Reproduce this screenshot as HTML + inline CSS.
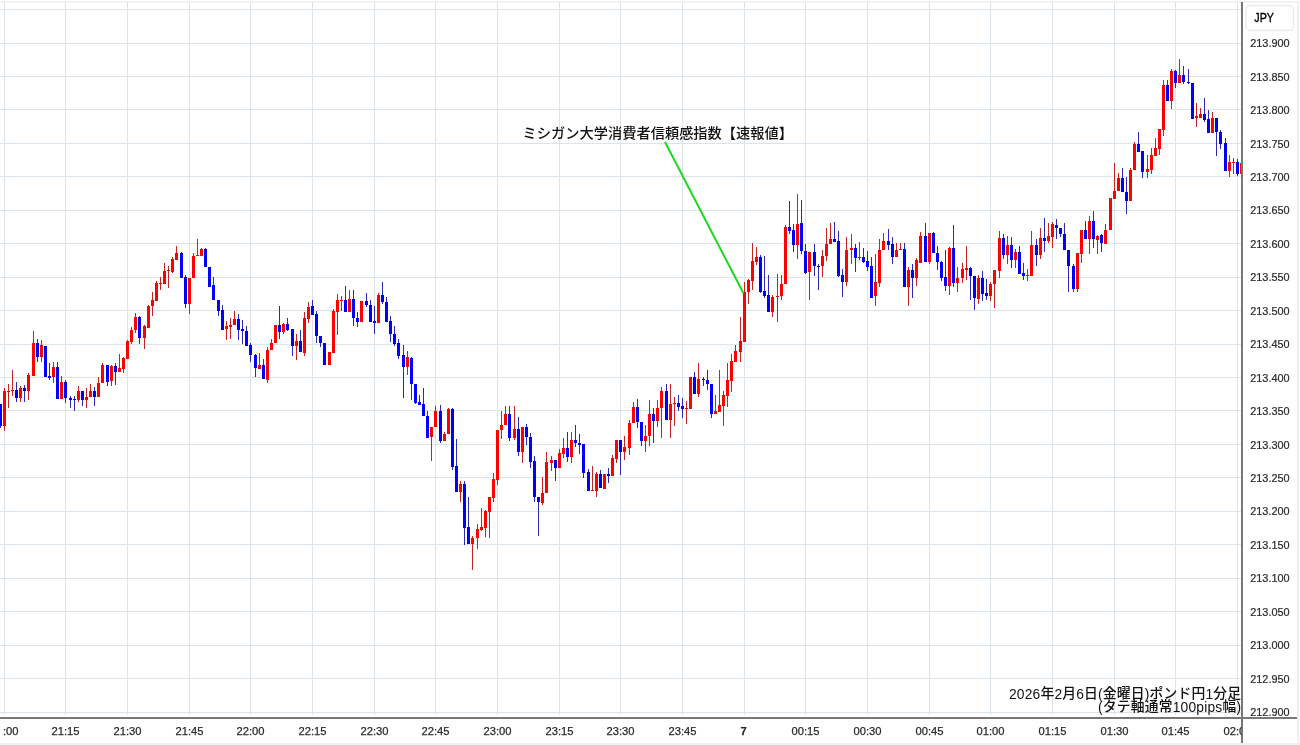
<!DOCTYPE html>
<html><head><meta charset="utf-8"><style>
html,body{margin:0;padding:0;background:#fff;}
body{width:1300px;height:745px;overflow:hidden;position:relative;}
svg{position:absolute;left:0;top:0;display:block;}
.pl text{font-family:"Liberation Sans",sans-serif;font-size:10.9px;fill:#2a2a2a;stroke:#2a2a2a;stroke-width:0.2px;}
.tl text{font-family:"Liberation Sans",sans-serif;font-size:11.2px;fill:#2a2a2a;stroke:#2a2a2a;stroke-width:0.25px;}
.jp{font-family:"Liberation Sans","Noto Sans CJK JP",sans-serif;}
</style></head><body>
<svg width="1300" height="745" viewBox="0 0 1300 745" shape-rendering="crispEdges">
<defs><clipPath id="cc"><rect x="0" y="2" width="1241" height="715"/></clipPath>
<clipPath id="tc"><rect x="3" y="719" width="1238.6" height="24"/></clipPath></defs>
<rect x="0" y="0" width="1300" height="745" fill="#fff"/>
<rect x="0" y="1" width="1298" height="2" fill="#f3f3f3"/>
<rect x="1297" y="1" width="2" height="744" fill="#f0f0f0"/>
<rect x="0" y="743" width="1300" height="2" fill="#f0f0f0"/>
<g clip-path="url(#cc)">
<rect x="0" y="9" width="1241" height="1" fill="#dbe4ea"/><rect x="0" y="43" width="1241" height="1" fill="#dbe4ea"/><rect x="0" y="76" width="1241" height="1" fill="#dbe4ea"/><rect x="0" y="109" width="1241" height="1" fill="#dbe4ea"/><rect x="0" y="143" width="1241" height="1" fill="#dbe4ea"/><rect x="0" y="176" width="1241" height="1" fill="#dbe4ea"/><rect x="0" y="210" width="1241" height="1" fill="#dbe4ea"/><rect x="0" y="243" width="1241" height="1" fill="#dbe4ea"/><rect x="0" y="277" width="1241" height="1" fill="#dbe4ea"/><rect x="0" y="310" width="1241" height="1" fill="#dbe4ea"/><rect x="0" y="344" width="1241" height="1" fill="#dbe4ea"/><rect x="0" y="377" width="1241" height="1" fill="#dbe4ea"/><rect x="0" y="410" width="1241" height="1" fill="#dbe4ea"/><rect x="0" y="444" width="1241" height="1" fill="#dbe4ea"/><rect x="0" y="477" width="1241" height="1" fill="#dbe4ea"/><rect x="0" y="511" width="1241" height="1" fill="#dbe4ea"/><rect x="0" y="544" width="1241" height="1" fill="#dbe4ea"/><rect x="0" y="578" width="1241" height="1" fill="#dbe4ea"/><rect x="0" y="611" width="1241" height="1" fill="#dbe4ea"/><rect x="0" y="645" width="1241" height="1" fill="#dbe4ea"/><rect x="0" y="678" width="1241" height="1" fill="#dbe4ea"/><rect x="0" y="712" width="1241" height="1" fill="#dbe4ea"/>
<rect x="4" y="2" width="1" height="713" fill="#dbe4ea"/><rect x="65" y="2" width="1" height="713" fill="#dbe4ea"/><rect x="127" y="2" width="1" height="713" fill="#dbe4ea"/><rect x="189" y="2" width="1" height="713" fill="#dbe4ea"/><rect x="250" y="2" width="1" height="713" fill="#dbe4ea"/><rect x="312" y="2" width="1" height="713" fill="#dbe4ea"/><rect x="374" y="2" width="1" height="713" fill="#dbe4ea"/><rect x="435" y="2" width="1" height="713" fill="#dbe4ea"/><rect x="497" y="2" width="1" height="713" fill="#dbe4ea"/><rect x="559" y="2" width="1" height="713" fill="#dbe4ea"/><rect x="620" y="2" width="1" height="713" fill="#dbe4ea"/><rect x="682" y="2" width="1" height="713" fill="#dbe4ea"/><rect x="744" y="2" width="1" height="713" fill="#dbe4ea"/><rect x="805" y="2" width="1" height="713" fill="#dbe4ea"/><rect x="867" y="2" width="1" height="713" fill="#dbe4ea"/><rect x="929" y="2" width="1" height="713" fill="#dbe4ea"/><rect x="990" y="2" width="1" height="713" fill="#dbe4ea"/><rect x="1052" y="2" width="1" height="713" fill="#dbe4ea"/><rect x="1114" y="2" width="1" height="713" fill="#dbe4ea"/><rect x="1175" y="2" width="1" height="713" fill="#dbe4ea"/><rect x="1237" y="2" width="1" height="713" fill="#dbe4ea"/>
<rect x="0" y="404" width="1" height="24" fill="#2a2ab4"/><rect x="-1" y="404" width="3" height="22" fill="#00f"/><rect x="4" y="388" width="1" height="43" fill="#c42424"/><rect x="3" y="391" width="3" height="35" fill="#f00"/><rect x="8" y="384" width="1" height="24" fill="#c42424"/><rect x="7" y="391" width="3" height="1" fill="#f00"/><rect x="12" y="370" width="1" height="26" fill="#c42424"/><rect x="11" y="390" width="3" height="1" fill="#f00"/><rect x="16" y="382" width="1" height="20" fill="#2a2ab4"/><rect x="15" y="390" width="3" height="8" fill="#00f"/><rect x="20" y="386" width="1" height="16" fill="#c42424"/><rect x="19" y="388" width="3" height="10" fill="#f00"/><rect x="24" y="385" width="1" height="17" fill="#2a2ab4"/><rect x="23" y="388" width="3" height="3" fill="#00f"/><rect x="28" y="373" width="1" height="27" fill="#c42424"/><rect x="27" y="375" width="3" height="16" fill="#f00"/><rect x="33" y="331" width="1" height="45" fill="#c42424"/><rect x="32" y="343" width="3" height="33" fill="#f00"/><rect x="37" y="339" width="1" height="23" fill="#2a2ab4"/><rect x="36" y="343" width="3" height="14" fill="#00f"/><rect x="41" y="340" width="1" height="22" fill="#c42424"/><rect x="40" y="345" width="3" height="12" fill="#f00"/><rect x="44" y="346" width="3" height="31" fill="#00f"/><rect x="49" y="363" width="1" height="17" fill="#2a2ab4"/><rect x="48" y="376" width="3" height="2" fill="#00f"/><rect x="53" y="362" width="1" height="21" fill="#c42424"/><rect x="52" y="367" width="3" height="10" fill="#f00"/><rect x="57" y="362" width="1" height="37" fill="#2a2ab4"/><rect x="56" y="367" width="3" height="32" fill="#00f"/><rect x="61" y="376" width="1" height="23" fill="#c42424"/><rect x="60" y="382" width="3" height="17" fill="#f00"/><rect x="65" y="380" width="1" height="23" fill="#2a2ab4"/><rect x="64" y="382" width="3" height="16" fill="#00f"/><rect x="70" y="396" width="1" height="12" fill="#2a2ab4"/><rect x="69" y="398" width="3" height="2" fill="#00f"/><rect x="74" y="396" width="1" height="15" fill="#2a2ab4"/><rect x="73" y="399" width="3" height="1" fill="#00f"/><rect x="78" y="386" width="1" height="16" fill="#c42424"/><rect x="77" y="391" width="3" height="9" fill="#f00"/><rect x="82" y="391" width="1" height="15" fill="#2a2ab4"/><rect x="81" y="391" width="3" height="9" fill="#00f"/><rect x="86" y="388" width="1" height="20" fill="#c42424"/><rect x="85" y="397" width="3" height="3" fill="#f00"/><rect x="90" y="384" width="1" height="13" fill="#c42424"/><rect x="89" y="391" width="3" height="6" fill="#f00"/><rect x="94" y="387" width="1" height="19" fill="#2a2ab4"/><rect x="93" y="391" width="3" height="6" fill="#00f"/><rect x="98" y="377" width="1" height="20" fill="#c42424"/><rect x="97" y="383" width="3" height="14" fill="#f00"/><rect x="102" y="363" width="1" height="20" fill="#c42424"/><rect x="101" y="365" width="3" height="18" fill="#f00"/><rect x="107" y="365" width="1" height="21" fill="#2a2ab4"/><rect x="106" y="365" width="3" height="17" fill="#00f"/><rect x="111" y="365" width="1" height="21" fill="#c42424"/><rect x="110" y="366" width="3" height="15" fill="#f00"/><rect x="115" y="363" width="1" height="22" fill="#2a2ab4"/><rect x="114" y="366" width="3" height="6" fill="#00f"/><rect x="119" y="354" width="1" height="18" fill="#c42424"/><rect x="118" y="368" width="3" height="4" fill="#f00"/><rect x="123" y="357" width="1" height="16" fill="#c42424"/><rect x="122" y="358" width="3" height="11" fill="#f00"/><rect x="127" y="340" width="1" height="19" fill="#c42424"/><rect x="126" y="341" width="3" height="18" fill="#f00"/><rect x="131" y="327" width="1" height="17" fill="#c42424"/><rect x="130" y="330" width="3" height="12" fill="#f00"/><rect x="135" y="313" width="1" height="20" fill="#c42424"/><rect x="134" y="317" width="3" height="13" fill="#f00"/><rect x="139" y="316" width="1" height="28" fill="#2a2ab4"/><rect x="138" y="317" width="3" height="21" fill="#00f"/><rect x="144" y="325" width="1" height="24" fill="#c42424"/><rect x="143" y="326" width="3" height="12" fill="#f00"/><rect x="148" y="305" width="1" height="23" fill="#c42424"/><rect x="147" y="306" width="3" height="22" fill="#f00"/><rect x="152" y="292" width="1" height="24" fill="#c42424"/><rect x="151" y="300" width="3" height="6" fill="#f00"/><rect x="156" y="281" width="1" height="20" fill="#c42424"/><rect x="155" y="283" width="3" height="18" fill="#f00"/><rect x="160" y="277" width="1" height="13" fill="#c42424"/><rect x="159" y="283" width="3" height="1" fill="#f00"/><rect x="164" y="263" width="1" height="21" fill="#c42424"/><rect x="163" y="271" width="3" height="13" fill="#f00"/><rect x="168" y="266" width="1" height="22" fill="#c42424"/><rect x="167" y="270" width="3" height="1" fill="#f00"/><rect x="172" y="257" width="1" height="16" fill="#c42424"/><rect x="171" y="259" width="3" height="13" fill="#f00"/><rect x="176" y="246" width="1" height="14" fill="#c42424"/><rect x="175" y="253" width="3" height="7" fill="#f00"/><rect x="181" y="252" width="1" height="26" fill="#2a2ab4"/><rect x="180" y="253" width="3" height="25" fill="#00f"/><rect x="185" y="275" width="1" height="33" fill="#2a2ab4"/><rect x="184" y="277" width="3" height="27" fill="#00f"/><rect x="189" y="278" width="1" height="36" fill="#c42424"/><rect x="188" y="278" width="3" height="26" fill="#f00"/><rect x="193" y="253" width="1" height="25" fill="#c42424"/><rect x="192" y="256" width="3" height="22" fill="#f00"/><rect x="197" y="239" width="1" height="17" fill="#c42424"/><rect x="196" y="255" width="3" height="1" fill="#f00"/><rect x="201" y="248" width="1" height="8" fill="#c42424"/><rect x="200" y="249" width="3" height="7" fill="#f00"/><rect x="205" y="248" width="1" height="19" fill="#2a2ab4"/><rect x="204" y="249" width="3" height="18" fill="#00f"/><rect x="208" y="267" width="3" height="20" fill="#00f"/><rect x="213" y="277" width="1" height="23" fill="#2a2ab4"/><rect x="212" y="285" width="3" height="15" fill="#00f"/><rect x="218" y="300" width="1" height="16" fill="#2a2ab4"/><rect x="217" y="300" width="3" height="11" fill="#00f"/><rect x="222" y="305" width="1" height="25" fill="#2a2ab4"/><rect x="221" y="310" width="3" height="20" fill="#00f"/><rect x="226" y="321" width="1" height="19" fill="#c42424"/><rect x="225" y="326" width="3" height="3" fill="#f00"/><rect x="230" y="318" width="1" height="21" fill="#c42424"/><rect x="229" y="325" width="3" height="2" fill="#f00"/><rect x="234" y="311" width="1" height="14" fill="#c42424"/><rect x="233" y="319" width="3" height="6" fill="#f00"/><rect x="238" y="314" width="1" height="26" fill="#2a2ab4"/><rect x="237" y="319" width="3" height="11" fill="#00f"/><rect x="242" y="320" width="1" height="24" fill="#2a2ab4"/><rect x="241" y="329" width="3" height="2" fill="#00f"/><rect x="246" y="326" width="1" height="20" fill="#2a2ab4"/><rect x="245" y="331" width="3" height="15" fill="#00f"/><rect x="250" y="343" width="1" height="19" fill="#2a2ab4"/><rect x="249" y="345" width="3" height="10" fill="#00f"/><rect x="255" y="354" width="1" height="23" fill="#2a2ab4"/><rect x="254" y="355" width="3" height="13" fill="#00f"/><rect x="259" y="353" width="1" height="16" fill="#c42424"/><rect x="258" y="365" width="3" height="4" fill="#f00"/><rect x="263" y="359" width="1" height="20" fill="#2a2ab4"/><rect x="262" y="365" width="3" height="14" fill="#00f"/><rect x="267" y="347" width="1" height="36" fill="#c42424"/><rect x="266" y="350" width="3" height="30" fill="#f00"/><rect x="271" y="339" width="1" height="11" fill="#c42424"/><rect x="270" y="343" width="3" height="7" fill="#f00"/><rect x="274" y="325" width="3" height="18" fill="#f00"/><rect x="279" y="306" width="1" height="33" fill="#2a2ab4"/><rect x="278" y="325" width="3" height="7" fill="#00f"/><rect x="283" y="323" width="1" height="11" fill="#c42424"/><rect x="282" y="324" width="3" height="8" fill="#f00"/><rect x="287" y="318" width="1" height="13" fill="#2a2ab4"/><rect x="286" y="324" width="3" height="6" fill="#00f"/><rect x="292" y="329" width="1" height="27" fill="#2a2ab4"/><rect x="291" y="329" width="3" height="17" fill="#00f"/><rect x="296" y="334" width="1" height="26" fill="#c42424"/><rect x="295" y="341" width="3" height="5" fill="#f00"/><rect x="300" y="330" width="1" height="22" fill="#2a2ab4"/><rect x="299" y="341" width="3" height="11" fill="#00f"/><rect x="304" y="312" width="1" height="44" fill="#c42424"/><rect x="303" y="318" width="3" height="35" fill="#f00"/><rect x="308" y="302" width="1" height="21" fill="#c42424"/><rect x="307" y="307" width="3" height="12" fill="#f00"/><rect x="312" y="300" width="1" height="15" fill="#2a2ab4"/><rect x="311" y="306" width="3" height="9" fill="#00f"/><rect x="316" y="311" width="1" height="32" fill="#2a2ab4"/><rect x="315" y="314" width="3" height="22" fill="#00f"/><rect x="320" y="336" width="1" height="11" fill="#2a2ab4"/><rect x="319" y="336" width="3" height="7" fill="#00f"/><rect x="323" y="343" width="3" height="22" fill="#00f"/><rect x="328" y="352" width="3" height="13" fill="#f00"/><rect x="333" y="309" width="1" height="44" fill="#c42424"/><rect x="332" y="311" width="3" height="42" fill="#f00"/><rect x="337" y="294" width="1" height="41" fill="#c42424"/><rect x="336" y="300" width="3" height="12" fill="#f00"/><rect x="341" y="296" width="1" height="15" fill="#c42424"/><rect x="340" y="300" width="3" height="1" fill="#f00"/><rect x="345" y="286" width="1" height="26" fill="#2a2ab4"/><rect x="344" y="300" width="3" height="12" fill="#00f"/><rect x="349" y="290" width="1" height="22" fill="#c42424"/><rect x="348" y="299" width="3" height="13" fill="#f00"/><rect x="353" y="290" width="1" height="36" fill="#2a2ab4"/><rect x="352" y="299" width="3" height="19" fill="#00f"/><rect x="357" y="312" width="1" height="15" fill="#2a2ab4"/><rect x="356" y="318" width="3" height="4" fill="#00f"/><rect x="360" y="301" width="3" height="21" fill="#f00"/><rect x="366" y="293" width="1" height="14" fill="#2a2ab4"/><rect x="365" y="301" width="3" height="4" fill="#00f"/><rect x="370" y="300" width="1" height="22" fill="#2a2ab4"/><rect x="369" y="305" width="3" height="17" fill="#00f"/><rect x="374" y="306" width="1" height="28" fill="#2a2ab4"/><rect x="373" y="321" width="3" height="2" fill="#00f"/><rect x="378" y="293" width="1" height="30" fill="#c42424"/><rect x="377" y="295" width="3" height="28" fill="#f00"/><rect x="382" y="282" width="1" height="22" fill="#2a2ab4"/><rect x="381" y="295" width="3" height="7" fill="#00f"/><rect x="386" y="297" width="1" height="25" fill="#2a2ab4"/><rect x="385" y="302" width="3" height="20" fill="#00f"/><rect x="390" y="316" width="1" height="26" fill="#2a2ab4"/><rect x="389" y="321" width="3" height="13" fill="#00f"/><rect x="394" y="326" width="1" height="20" fill="#2a2ab4"/><rect x="393" y="334" width="3" height="10" fill="#00f"/><rect x="398" y="339" width="1" height="20" fill="#2a2ab4"/><rect x="397" y="343" width="3" height="13" fill="#00f"/><rect x="403" y="345" width="1" height="53" fill="#2a2ab4"/><rect x="402" y="355" width="3" height="12" fill="#00f"/><rect x="407" y="351" width="1" height="24" fill="#c42424"/><rect x="406" y="357" width="3" height="10" fill="#f00"/><rect x="411" y="357" width="1" height="43" fill="#2a2ab4"/><rect x="410" y="358" width="3" height="26" fill="#00f"/><rect x="415" y="384" width="1" height="20" fill="#2a2ab4"/><rect x="414" y="384" width="3" height="19" fill="#00f"/><rect x="419" y="395" width="1" height="10" fill="#2a2ab4"/><rect x="418" y="402" width="3" height="3" fill="#00f"/><rect x="423" y="388" width="1" height="28" fill="#2a2ab4"/><rect x="422" y="404" width="3" height="12" fill="#00f"/><rect x="427" y="411" width="1" height="27" fill="#2a2ab4"/><rect x="426" y="416" width="3" height="22" fill="#00f"/><rect x="431" y="427" width="1" height="34" fill="#c42424"/><rect x="430" y="427" width="3" height="10" fill="#f00"/><rect x="435" y="406" width="1" height="21" fill="#c42424"/><rect x="434" y="411" width="3" height="16" fill="#f00"/><rect x="440" y="405" width="1" height="38" fill="#2a2ab4"/><rect x="439" y="411" width="3" height="30" fill="#00f"/><rect x="444" y="432" width="1" height="9" fill="#c42424"/><rect x="443" y="434" width="3" height="7" fill="#f00"/><rect x="448" y="408" width="1" height="26" fill="#c42424"/><rect x="447" y="409" width="3" height="25" fill="#f00"/><rect x="452" y="408" width="1" height="62" fill="#2a2ab4"/><rect x="451" y="409" width="3" height="58" fill="#00f"/><rect x="456" y="439" width="1" height="53" fill="#2a2ab4"/><rect x="455" y="466" width="3" height="26" fill="#00f"/><rect x="460" y="481" width="1" height="21" fill="#c42424"/><rect x="459" y="484" width="3" height="8" fill="#f00"/><rect x="464" y="481" width="1" height="64" fill="#2a2ab4"/><rect x="463" y="484" width="3" height="44" fill="#00f"/><rect x="468" y="497" width="1" height="47" fill="#2a2ab4"/><rect x="467" y="527" width="3" height="17" fill="#00f"/><rect x="472" y="536" width="1" height="34" fill="#c42424"/><rect x="471" y="538" width="3" height="6" fill="#f00"/><rect x="477" y="524" width="1" height="25" fill="#c42424"/><rect x="476" y="529" width="3" height="9" fill="#f00"/><rect x="481" y="508" width="1" height="23" fill="#c42424"/><rect x="480" y="527" width="3" height="3" fill="#f00"/><rect x="485" y="510" width="1" height="27" fill="#c42424"/><rect x="484" y="511" width="3" height="17" fill="#f00"/><rect x="489" y="497" width="1" height="41" fill="#c42424"/><rect x="488" y="497" width="3" height="15" fill="#f00"/><rect x="493" y="473" width="1" height="29" fill="#c42424"/><rect x="492" y="479" width="3" height="19" fill="#f00"/><rect x="497" y="430" width="1" height="55" fill="#c42424"/><rect x="496" y="430" width="3" height="50" fill="#f00"/><rect x="501" y="411" width="1" height="28" fill="#c42424"/><rect x="500" y="425" width="3" height="5" fill="#f00"/><rect x="505" y="406" width="1" height="19" fill="#c42424"/><rect x="504" y="414" width="3" height="11" fill="#f00"/><rect x="509" y="406" width="1" height="35" fill="#2a2ab4"/><rect x="508" y="414" width="3" height="24" fill="#00f"/><rect x="514" y="406" width="1" height="34" fill="#c42424"/><rect x="513" y="429" width="3" height="9" fill="#f00"/><rect x="518" y="417" width="1" height="39" fill="#2a2ab4"/><rect x="517" y="429" width="3" height="23" fill="#00f"/><rect x="522" y="427" width="1" height="36" fill="#c42424"/><rect x="521" y="427" width="3" height="25" fill="#f00"/><rect x="526" y="424" width="1" height="21" fill="#2a2ab4"/><rect x="525" y="427" width="3" height="10" fill="#00f"/><rect x="530" y="433" width="1" height="35" fill="#2a2ab4"/><rect x="529" y="437" width="3" height="25" fill="#00f"/><rect x="534" y="456" width="1" height="46" fill="#2a2ab4"/><rect x="533" y="461" width="3" height="36" fill="#00f"/><rect x="538" y="497" width="1" height="39" fill="#2a2ab4"/><rect x="537" y="497" width="3" height="5" fill="#00f"/><rect x="542" y="477" width="1" height="28" fill="#c42424"/><rect x="541" y="493" width="3" height="10" fill="#f00"/><rect x="546" y="452" width="1" height="41" fill="#c42424"/><rect x="545" y="462" width="3" height="31" fill="#f00"/><rect x="551" y="456" width="1" height="15" fill="#c42424"/><rect x="550" y="460" width="3" height="3" fill="#f00"/><rect x="555" y="460" width="1" height="21" fill="#2a2ab4"/><rect x="554" y="460" width="3" height="8" fill="#00f"/><rect x="559" y="449" width="1" height="19" fill="#c42424"/><rect x="558" y="453" width="3" height="15" fill="#f00"/><rect x="563" y="438" width="1" height="20" fill="#c42424"/><rect x="562" y="448" width="3" height="6" fill="#f00"/><rect x="567" y="432" width="1" height="30" fill="#2a2ab4"/><rect x="566" y="448" width="3" height="9" fill="#00f"/><rect x="571" y="432" width="1" height="31" fill="#c42424"/><rect x="570" y="440" width="3" height="17" fill="#f00"/><rect x="575" y="425" width="1" height="22" fill="#2a2ab4"/><rect x="574" y="440" width="3" height="3" fill="#00f"/><rect x="579" y="434" width="1" height="20" fill="#2a2ab4"/><rect x="578" y="443" width="3" height="2" fill="#00f"/><rect x="583" y="444" width="1" height="34" fill="#2a2ab4"/><rect x="582" y="444" width="3" height="29" fill="#00f"/><rect x="588" y="469" width="1" height="22" fill="#2a2ab4"/><rect x="587" y="472" width="3" height="19" fill="#00f"/><rect x="592" y="466" width="1" height="25" fill="#c42424"/><rect x="591" y="490" width="3" height="1" fill="#f00"/><rect x="596" y="472" width="1" height="25" fill="#c42424"/><rect x="595" y="474" width="3" height="17" fill="#f00"/><rect x="600" y="470" width="1" height="18" fill="#2a2ab4"/><rect x="599" y="474" width="3" height="14" fill="#00f"/><rect x="603" y="474" width="3" height="15" fill="#f00"/><rect x="608" y="468" width="1" height="15" fill="#2a2ab4"/><rect x="607" y="474" width="3" height="2" fill="#00f"/><rect x="612" y="455" width="1" height="21" fill="#c42424"/><rect x="611" y="458" width="3" height="18" fill="#f00"/><rect x="616" y="440" width="1" height="23" fill="#c42424"/><rect x="615" y="440" width="3" height="19" fill="#f00"/><rect x="620" y="440" width="1" height="35" fill="#2a2ab4"/><rect x="619" y="440" width="3" height="12" fill="#00f"/><rect x="624" y="436" width="1" height="24" fill="#c42424"/><rect x="623" y="447" width="3" height="5" fill="#f00"/><rect x="629" y="420" width="1" height="35" fill="#c42424"/><rect x="628" y="423" width="3" height="25" fill="#f00"/><rect x="633" y="402" width="1" height="21" fill="#c42424"/><rect x="632" y="407" width="3" height="16" fill="#f00"/><rect x="637" y="399" width="1" height="29" fill="#2a2ab4"/><rect x="636" y="407" width="3" height="15" fill="#00f"/><rect x="641" y="422" width="1" height="24" fill="#2a2ab4"/><rect x="640" y="422" width="3" height="19" fill="#00f"/><rect x="645" y="425" width="1" height="27" fill="#c42424"/><rect x="644" y="436" width="3" height="5" fill="#f00"/><rect x="649" y="400" width="1" height="46" fill="#c42424"/><rect x="648" y="414" width="3" height="22" fill="#f00"/><rect x="653" y="408" width="1" height="35" fill="#2a2ab4"/><rect x="652" y="414" width="3" height="7" fill="#00f"/><rect x="657" y="400" width="1" height="27" fill="#c42424"/><rect x="656" y="408" width="3" height="13" fill="#f00"/><rect x="661" y="387" width="1" height="51" fill="#c42424"/><rect x="660" y="391" width="3" height="17" fill="#f00"/><rect x="666" y="384" width="1" height="36" fill="#2a2ab4"/><rect x="665" y="391" width="3" height="29" fill="#00f"/><rect x="670" y="384" width="1" height="54" fill="#c42424"/><rect x="669" y="404" width="3" height="16" fill="#f00"/><rect x="674" y="397" width="1" height="29" fill="#c42424"/><rect x="673" y="403" width="3" height="1" fill="#f00"/><rect x="678" y="395" width="1" height="16" fill="#2a2ab4"/><rect x="677" y="403" width="3" height="4" fill="#00f"/><rect x="682" y="398" width="1" height="20" fill="#2a2ab4"/><rect x="681" y="406" width="3" height="3" fill="#00f"/><rect x="686" y="401" width="1" height="23" fill="#c42424"/><rect x="685" y="408" width="3" height="1" fill="#f00"/><rect x="689" y="377" width="3" height="32" fill="#f00"/><rect x="694" y="372" width="1" height="22" fill="#2a2ab4"/><rect x="693" y="377" width="3" height="17" fill="#00f"/><rect x="698" y="363" width="1" height="34" fill="#c42424"/><rect x="697" y="379" width="3" height="15" fill="#f00"/><rect x="703" y="377" width="1" height="9" fill="#2a2ab4"/><rect x="702" y="379" width="3" height="1" fill="#00f"/><rect x="707" y="370" width="1" height="20" fill="#2a2ab4"/><rect x="706" y="380" width="3" height="4" fill="#00f"/><rect x="711" y="384" width="1" height="34" fill="#2a2ab4"/><rect x="710" y="384" width="3" height="30" fill="#00f"/><rect x="715" y="395" width="1" height="19" fill="#c42424"/><rect x="714" y="411" width="3" height="3" fill="#f00"/><rect x="719" y="370" width="1" height="42" fill="#c42424"/><rect x="718" y="405" width="3" height="7" fill="#f00"/><rect x="723" y="391" width="1" height="35" fill="#c42424"/><rect x="722" y="395" width="3" height="11" fill="#f00"/><rect x="727" y="363" width="1" height="44" fill="#c42424"/><rect x="726" y="380" width="3" height="16" fill="#f00"/><rect x="731" y="354" width="1" height="38" fill="#c42424"/><rect x="730" y="361" width="3" height="20" fill="#f00"/><rect x="735" y="345" width="1" height="17" fill="#c42424"/><rect x="734" y="351" width="3" height="11" fill="#f00"/><rect x="740" y="317" width="1" height="45" fill="#c42424"/><rect x="739" y="341" width="3" height="11" fill="#f00"/><rect x="744" y="282" width="1" height="60" fill="#c42424"/><rect x="743" y="292" width="3" height="50" fill="#f00"/><rect x="748" y="279" width="1" height="25" fill="#c42424"/><rect x="747" y="280" width="3" height="12" fill="#f00"/><rect x="752" y="243" width="1" height="47" fill="#c42424"/><rect x="751" y="261" width="3" height="20" fill="#f00"/><rect x="756" y="247" width="1" height="18" fill="#c42424"/><rect x="755" y="257" width="3" height="5" fill="#f00"/><rect x="760" y="255" width="1" height="38" fill="#2a2ab4"/><rect x="759" y="257" width="3" height="35" fill="#00f"/><rect x="764" y="256" width="1" height="42" fill="#2a2ab4"/><rect x="763" y="291" width="3" height="5" fill="#00f"/><rect x="768" y="275" width="1" height="37" fill="#2a2ab4"/><rect x="767" y="295" width="3" height="17" fill="#00f"/><rect x="772" y="295" width="1" height="22" fill="#c42424"/><rect x="771" y="297" width="3" height="15" fill="#f00"/><rect x="777" y="274" width="1" height="48" fill="#c42424"/><rect x="776" y="296" width="3" height="1" fill="#f00"/><rect x="781" y="275" width="1" height="25" fill="#c42424"/><rect x="780" y="284" width="3" height="12" fill="#f00"/><rect x="785" y="225" width="1" height="59" fill="#c42424"/><rect x="784" y="227" width="3" height="57" fill="#f00"/><rect x="789" y="201" width="1" height="33" fill="#2a2ab4"/><rect x="788" y="227" width="3" height="4" fill="#00f"/><rect x="793" y="224" width="1" height="28" fill="#2a2ab4"/><rect x="792" y="230" width="3" height="15" fill="#00f"/><rect x="797" y="194" width="1" height="65" fill="#c42424"/><rect x="796" y="224" width="3" height="21" fill="#f00"/><rect x="801" y="200" width="1" height="54" fill="#2a2ab4"/><rect x="800" y="223" width="3" height="28" fill="#00f"/><rect x="805" y="244" width="1" height="30" fill="#2a2ab4"/><rect x="804" y="251" width="3" height="22" fill="#00f"/><rect x="809" y="252" width="1" height="48" fill="#c42424"/><rect x="808" y="252" width="3" height="20" fill="#f00"/><rect x="814" y="244" width="1" height="32" fill="#2a2ab4"/><rect x="813" y="252" width="3" height="14" fill="#00f"/><rect x="818" y="264" width="1" height="26" fill="#2a2ab4"/><rect x="817" y="266" width="3" height="1" fill="#00f"/><rect x="822" y="250" width="1" height="27" fill="#c42424"/><rect x="821" y="256" width="3" height="10" fill="#f00"/><rect x="826" y="228" width="1" height="33" fill="#c42424"/><rect x="825" y="244" width="3" height="12" fill="#f00"/><rect x="830" y="223" width="1" height="21" fill="#c42424"/><rect x="829" y="239" width="3" height="5" fill="#f00"/><rect x="834" y="222" width="1" height="20" fill="#2a2ab4"/><rect x="833" y="239" width="3" height="3" fill="#00f"/><rect x="838" y="231" width="1" height="46" fill="#2a2ab4"/><rect x="837" y="241" width="3" height="35" fill="#00f"/><rect x="842" y="269" width="1" height="28" fill="#2a2ab4"/><rect x="841" y="275" width="3" height="7" fill="#00f"/><rect x="846" y="237" width="1" height="49" fill="#c42424"/><rect x="845" y="250" width="3" height="32" fill="#f00"/><rect x="851" y="234" width="1" height="30" fill="#c42424"/><rect x="850" y="248" width="3" height="2" fill="#f00"/><rect x="855" y="244" width="1" height="28" fill="#2a2ab4"/><rect x="854" y="248" width="3" height="10" fill="#00f"/><rect x="859" y="242" width="1" height="18" fill="#c42424"/><rect x="858" y="257" width="3" height="1" fill="#f00"/><rect x="863" y="248" width="1" height="15" fill="#2a2ab4"/><rect x="862" y="257" width="3" height="5" fill="#00f"/><rect x="867" y="251" width="1" height="20" fill="#2a2ab4"/><rect x="866" y="261" width="3" height="6" fill="#00f"/><rect x="871" y="257" width="1" height="41" fill="#2a2ab4"/><rect x="870" y="266" width="3" height="32" fill="#00f"/><rect x="875" y="254" width="1" height="52" fill="#c42424"/><rect x="874" y="282" width="3" height="14" fill="#f00"/><rect x="879" y="239" width="1" height="48" fill="#c42424"/><rect x="878" y="250" width="3" height="33" fill="#f00"/><rect x="883" y="233" width="1" height="17" fill="#c42424"/><rect x="882" y="241" width="3" height="9" fill="#f00"/><rect x="888" y="229" width="1" height="21" fill="#2a2ab4"/><rect x="887" y="241" width="3" height="4" fill="#00f"/><rect x="892" y="237" width="1" height="27" fill="#2a2ab4"/><rect x="891" y="244" width="3" height="13" fill="#00f"/><rect x="896" y="243" width="1" height="14" fill="#c42424"/><rect x="895" y="250" width="3" height="7" fill="#f00"/><rect x="900" y="243" width="1" height="7" fill="#c42424"/><rect x="899" y="249" width="3" height="1" fill="#f00"/><rect x="904" y="243" width="1" height="44" fill="#2a2ab4"/><rect x="903" y="249" width="3" height="38" fill="#00f"/><rect x="908" y="267" width="1" height="39" fill="#c42424"/><rect x="907" y="270" width="3" height="17" fill="#f00"/><rect x="912" y="264" width="1" height="34" fill="#2a2ab4"/><rect x="911" y="270" width="3" height="8" fill="#00f"/><rect x="916" y="258" width="1" height="28" fill="#c42424"/><rect x="915" y="260" width="3" height="18" fill="#f00"/><rect x="920" y="232" width="1" height="31" fill="#c42424"/><rect x="919" y="236" width="3" height="27" fill="#f00"/><rect x="925" y="223" width="1" height="39" fill="#2a2ab4"/><rect x="924" y="236" width="3" height="26" fill="#00f"/><rect x="929" y="233" width="1" height="31" fill="#c42424"/><rect x="928" y="233" width="3" height="29" fill="#f00"/><rect x="933" y="232" width="1" height="21" fill="#2a2ab4"/><rect x="932" y="233" width="3" height="20" fill="#00f"/><rect x="937" y="246" width="1" height="24" fill="#2a2ab4"/><rect x="936" y="253" width="3" height="9" fill="#00f"/><rect x="941" y="261" width="1" height="20" fill="#2a2ab4"/><rect x="940" y="262" width="3" height="16" fill="#00f"/><rect x="945" y="250" width="1" height="41" fill="#2a2ab4"/><rect x="944" y="277" width="3" height="9" fill="#00f"/><rect x="949" y="247" width="1" height="48" fill="#c42424"/><rect x="948" y="248" width="3" height="38" fill="#f00"/><rect x="953" y="225" width="1" height="62" fill="#2a2ab4"/><rect x="952" y="248" width="3" height="35" fill="#00f"/><rect x="957" y="267" width="1" height="25" fill="#c42424"/><rect x="956" y="278" width="3" height="5" fill="#f00"/><rect x="962" y="263" width="1" height="20" fill="#c42424"/><rect x="961" y="269" width="3" height="9" fill="#f00"/><rect x="966" y="246" width="1" height="34" fill="#c42424"/><rect x="965" y="268" width="3" height="2" fill="#f00"/><rect x="970" y="267" width="1" height="33" fill="#2a2ab4"/><rect x="969" y="268" width="3" height="8" fill="#00f"/><rect x="974" y="276" width="1" height="34" fill="#2a2ab4"/><rect x="973" y="276" width="3" height="22" fill="#00f"/><rect x="978" y="275" width="1" height="29" fill="#c42424"/><rect x="977" y="278" width="3" height="21" fill="#f00"/><rect x="982" y="271" width="1" height="30" fill="#2a2ab4"/><rect x="981" y="278" width="3" height="16" fill="#00f"/><rect x="986" y="279" width="1" height="21" fill="#2a2ab4"/><rect x="985" y="293" width="3" height="3" fill="#00f"/><rect x="990" y="282" width="1" height="19" fill="#c42424"/><rect x="989" y="284" width="3" height="12" fill="#f00"/><rect x="994" y="270" width="1" height="38" fill="#c42424"/><rect x="993" y="270" width="3" height="14" fill="#f00"/><rect x="999" y="231" width="1" height="47" fill="#c42424"/><rect x="998" y="238" width="3" height="33" fill="#f00"/><rect x="1003" y="234" width="1" height="25" fill="#2a2ab4"/><rect x="1002" y="238" width="3" height="17" fill="#00f"/><rect x="1007" y="236" width="1" height="28" fill="#c42424"/><rect x="1006" y="245" width="3" height="10" fill="#f00"/><rect x="1011" y="237" width="1" height="31" fill="#2a2ab4"/><rect x="1010" y="245" width="3" height="15" fill="#00f"/><rect x="1015" y="249" width="1" height="19" fill="#c42424"/><rect x="1014" y="252" width="3" height="8" fill="#f00"/><rect x="1019" y="246" width="1" height="28" fill="#2a2ab4"/><rect x="1018" y="252" width="3" height="22" fill="#00f"/><rect x="1023" y="263" width="1" height="17" fill="#2a2ab4"/><rect x="1022" y="273" width="3" height="3" fill="#00f"/><rect x="1027" y="269" width="1" height="12" fill="#c42424"/><rect x="1026" y="275" width="3" height="1" fill="#f00"/><rect x="1031" y="231" width="1" height="45" fill="#c42424"/><rect x="1030" y="245" width="3" height="31" fill="#f00"/><rect x="1036" y="239" width="1" height="27" fill="#2a2ab4"/><rect x="1035" y="245" width="3" height="10" fill="#00f"/><rect x="1040" y="228" width="1" height="31" fill="#c42424"/><rect x="1039" y="238" width="3" height="17" fill="#f00"/><rect x="1044" y="218" width="1" height="34" fill="#2a2ab4"/><rect x="1043" y="238" width="3" height="3" fill="#00f"/><rect x="1048" y="223" width="1" height="20" fill="#c42424"/><rect x="1047" y="236" width="3" height="5" fill="#f00"/><rect x="1052" y="222" width="1" height="26" fill="#c42424"/><rect x="1051" y="224" width="3" height="13" fill="#f00"/><rect x="1056" y="219" width="1" height="20" fill="#2a2ab4"/><rect x="1055" y="225" width="3" height="3" fill="#00f"/><rect x="1060" y="228" width="1" height="9" fill="#2a2ab4"/><rect x="1059" y="228" width="3" height="6" fill="#00f"/><rect x="1064" y="223" width="1" height="27" fill="#2a2ab4"/><rect x="1063" y="234" width="3" height="16" fill="#00f"/><rect x="1068" y="250" width="1" height="42" fill="#2a2ab4"/><rect x="1067" y="250" width="3" height="16" fill="#00f"/><rect x="1073" y="264" width="1" height="28" fill="#2a2ab4"/><rect x="1072" y="266" width="3" height="23" fill="#00f"/><rect x="1077" y="253" width="1" height="39" fill="#c42424"/><rect x="1076" y="253" width="3" height="36" fill="#f00"/><rect x="1081" y="230" width="1" height="33" fill="#c42424"/><rect x="1080" y="230" width="3" height="24" fill="#f00"/><rect x="1085" y="221" width="1" height="18" fill="#2a2ab4"/><rect x="1084" y="230" width="3" height="9" fill="#00f"/><rect x="1089" y="216" width="1" height="38" fill="#c42424"/><rect x="1088" y="221" width="3" height="18" fill="#f00"/><rect x="1093" y="211" width="1" height="37" fill="#2a2ab4"/><rect x="1092" y="221" width="3" height="18" fill="#00f"/><rect x="1097" y="235" width="1" height="19" fill="#c42424"/><rect x="1096" y="236" width="3" height="4" fill="#f00"/><rect x="1101" y="234" width="1" height="18" fill="#2a2ab4"/><rect x="1100" y="235" width="3" height="8" fill="#00f"/><rect x="1105" y="224" width="1" height="20" fill="#c42424"/><rect x="1104" y="230" width="3" height="14" fill="#f00"/><rect x="1109" y="198" width="3" height="32" fill="#f00"/><rect x="1114" y="163" width="1" height="36" fill="#c42424"/><rect x="1113" y="191" width="3" height="8" fill="#f00"/><rect x="1118" y="173" width="1" height="18" fill="#c42424"/><rect x="1117" y="178" width="3" height="13" fill="#f00"/><rect x="1122" y="168" width="1" height="24" fill="#2a2ab4"/><rect x="1121" y="178" width="3" height="14" fill="#00f"/><rect x="1126" y="177" width="1" height="37" fill="#2a2ab4"/><rect x="1125" y="192" width="3" height="9" fill="#00f"/><rect x="1130" y="168" width="1" height="33" fill="#c42424"/><rect x="1129" y="170" width="3" height="31" fill="#f00"/><rect x="1134" y="142" width="1" height="28" fill="#c42424"/><rect x="1133" y="144" width="3" height="26" fill="#f00"/><rect x="1138" y="132" width="1" height="20" fill="#2a2ab4"/><rect x="1137" y="144" width="3" height="8" fill="#00f"/><rect x="1142" y="151" width="1" height="27" fill="#2a2ab4"/><rect x="1141" y="151" width="3" height="21" fill="#00f"/><rect x="1147" y="155" width="1" height="23" fill="#c42424"/><rect x="1146" y="169" width="3" height="3" fill="#f00"/><rect x="1151" y="148" width="1" height="26" fill="#c42424"/><rect x="1150" y="155" width="3" height="15" fill="#f00"/><rect x="1155" y="138" width="1" height="18" fill="#c42424"/><rect x="1154" y="148" width="3" height="8" fill="#f00"/><rect x="1159" y="129" width="1" height="26" fill="#c42424"/><rect x="1158" y="129" width="3" height="20" fill="#f00"/><rect x="1163" y="80" width="1" height="56" fill="#c42424"/><rect x="1162" y="85" width="3" height="45" fill="#f00"/><rect x="1167" y="80" width="1" height="21" fill="#2a2ab4"/><rect x="1166" y="85" width="3" height="16" fill="#00f"/><rect x="1171" y="69" width="1" height="40" fill="#c42424"/><rect x="1170" y="71" width="3" height="30" fill="#f00"/><rect x="1175" y="70" width="1" height="18" fill="#2a2ab4"/><rect x="1174" y="71" width="3" height="12" fill="#00f"/><rect x="1179" y="59" width="1" height="24" fill="#c42424"/><rect x="1178" y="75" width="3" height="8" fill="#f00"/><rect x="1183" y="66" width="1" height="18" fill="#2a2ab4"/><rect x="1182" y="75" width="3" height="7" fill="#00f"/><rect x="1188" y="69" width="1" height="15" fill="#2a2ab4"/><rect x="1187" y="82" width="3" height="1" fill="#00f"/><rect x="1191" y="83" width="3" height="36" fill="#00f"/><rect x="1196" y="103" width="1" height="24" fill="#c42424"/><rect x="1195" y="116" width="3" height="2" fill="#f00"/><rect x="1200" y="108" width="1" height="10" fill="#c42424"/><rect x="1199" y="114" width="3" height="4" fill="#f00"/><rect x="1204" y="98" width="1" height="24" fill="#2a2ab4"/><rect x="1203" y="114" width="3" height="6" fill="#00f"/><rect x="1208" y="110" width="1" height="23" fill="#2a2ab4"/><rect x="1207" y="119" width="3" height="14" fill="#00f"/><rect x="1212" y="112" width="1" height="21" fill="#c42424"/><rect x="1211" y="118" width="3" height="15" fill="#f00"/><rect x="1216" y="118" width="1" height="38" fill="#2a2ab4"/><rect x="1215" y="118" width="3" height="14" fill="#00f"/><rect x="1220" y="130" width="1" height="19" fill="#2a2ab4"/><rect x="1219" y="132" width="3" height="12" fill="#00f"/><rect x="1225" y="138" width="1" height="33" fill="#2a2ab4"/><rect x="1224" y="143" width="3" height="28" fill="#00f"/><rect x="1229" y="155" width="1" height="22" fill="#c42424"/><rect x="1228" y="162" width="3" height="9" fill="#f00"/><rect x="1233" y="158" width="1" height="16" fill="#c42424"/><rect x="1232" y="162" width="3" height="1" fill="#f00"/><rect x="1237" y="159" width="1" height="17" fill="#2a2ab4"/><rect x="1236" y="162" width="3" height="12" fill="#00f"/><rect x="1241" y="161" width="1" height="13" fill="#c42424"/><rect x="1240" y="163" width="3" height="11" fill="#f00"/>
</g>
<line x1="665" y1="142" x2="743.6" y2="293.5" stroke="#1ed81e" stroke-width="2" shape-rendering="auto"/>
<g style="font-family:'Liberation Sans','Noto Sans CJK JP',sans-serif;font-weight:500" fill="#111">
<text x="522.5" y="138.4" font-size="14.2" textLength="270.5" lengthAdjust="spacing">ミシガン大学消費者信頼感指数【速報値】</text>
<text x="1009" y="698.5" font-size="13.8" textLength="232" lengthAdjust="spacing">2026<tspan baseline-shift="1.2">年</tspan>2<tspan baseline-shift="1.2">月</tspan>6<tspan baseline-shift="1.2">日</tspan>(<tspan baseline-shift="1.2">金曜日</tspan>)<tspan baseline-shift="1.2">ポンド円</tspan>1<tspan baseline-shift="1.2">分足</tspan></text>
<text x="1098" y="711.7" font-size="13.8" textLength="143" lengthAdjust="spacing">(<tspan baseline-shift="1.2">タテ軸通常</tspan>100pips<tspan baseline-shift="1.2">幅</tspan>)</text>
</g>
<rect x="1241" y="2" width="2" height="741" fill="#777"/>
<rect x="0" y="717" width="1297" height="2" fill="#777"/>
<g class="pl"><text x="1289.6" y="47.1" text-anchor="end">213.900</text><text x="1289.6" y="80.5" text-anchor="end">213.850</text><text x="1289.6" y="114.0" text-anchor="end">213.800</text><text x="1289.6" y="147.5" text-anchor="end">213.750</text><text x="1289.6" y="180.9" text-anchor="end">213.700</text><text x="1289.6" y="214.4" text-anchor="end">213.650</text><text x="1289.6" y="247.8" text-anchor="end">213.600</text><text x="1289.6" y="281.3" text-anchor="end">213.550</text><text x="1289.6" y="314.7" text-anchor="end">213.500</text><text x="1289.6" y="348.2" text-anchor="end">213.450</text><text x="1289.6" y="381.6" text-anchor="end">213.400</text><text x="1289.6" y="415.1" text-anchor="end">213.350</text><text x="1289.6" y="448.5" text-anchor="end">213.300</text><text x="1289.6" y="482.0" text-anchor="end">213.250</text><text x="1289.6" y="515.4" text-anchor="end">213.200</text><text x="1289.6" y="548.9" text-anchor="end">213.150</text><text x="1289.6" y="582.3" text-anchor="end">213.100</text><text x="1289.6" y="615.8" text-anchor="end">213.050</text><text x="1289.6" y="649.2" text-anchor="end">213.000</text><text x="1289.6" y="682.6" text-anchor="end">212.950</text><text x="1289.6" y="716.1" text-anchor="end">212.900</text></g>
<g class="tl" clip-path="url(#tc)"><text x="4.5" y="734.5" text-anchor="middle">21:00</text><text x="65.5" y="734.5" text-anchor="middle">21:15</text><text x="127.5" y="734.5" text-anchor="middle">21:30</text><text x="189.5" y="734.5" text-anchor="middle">21:45</text><text x="250.5" y="734.5" text-anchor="middle">22:00</text><text x="312.5" y="734.5" text-anchor="middle">22:15</text><text x="374.5" y="734.5" text-anchor="middle">22:30</text><text x="435.5" y="734.5" text-anchor="middle">22:45</text><text x="497.5" y="734.5" text-anchor="middle">23:00</text><text x="559.5" y="734.5" text-anchor="middle">23:15</text><text x="620.5" y="734.5" text-anchor="middle">23:30</text><text x="682.5" y="734.5" text-anchor="middle">23:45</text><text x="743.7" y="734.5" text-anchor="middle" font-weight="bold" fill="#000" stroke="#000" stroke-width="0.1">7</text><text x="805.5" y="734.5" text-anchor="middle">00:15</text><text x="867.5" y="734.5" text-anchor="middle">00:30</text><text x="929.5" y="734.5" text-anchor="middle">00:45</text><text x="990.5" y="734.5" text-anchor="middle">01:00</text><text x="1052.5" y="734.5" text-anchor="middle">01:15</text><text x="1114.5" y="734.5" text-anchor="middle">01:30</text><text x="1175.5" y="734.5" text-anchor="middle">01:45</text><text x="1237.5" y="734.5" text-anchor="middle">02:00</text></g>
<rect x="1246" y="5.5" width="47.5" height="25" rx="4" ry="4" fill="#fff" stroke="#ebebeb" stroke-width="1.3" shape-rendering="auto"/>
<text x="1254.3" y="21.8" font-size="12.4" fill="#000" stroke="#000" stroke-width="0.35" textLength="19.6" lengthAdjust="spacingAndGlyphs" style="font-family:'Liberation Sans',sans-serif">JPY</text>
</svg>
</body></html>
